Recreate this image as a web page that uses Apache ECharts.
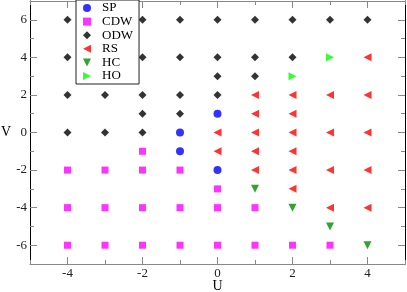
<!DOCTYPE html>
<html><head><meta charset="utf-8">
<script src="https://cdn.jsdelivr.net/npm/echarts@6/dist/echarts.min.js"></script>
<style>html,body{margin:0;padding:0;background:#fff}#c{width:407px;height:292px}</style>
</head><body><div id="c"></div>
<script>
const xTicks = [-4, -2, 0, 2, 4];
const yTicks = [-6, -4, -2, 0, 2, 4, 6];
const SP = [[-1,0],[-1,-1],[0,1],[0,-2]];
const CDW = [[-2,-1],[-4,-2],[-3,-2],[-2,-2],[-1,-2],[0,-3],
  [-4,-4],[-3,-4],[-2,-4],[-1,-4],[0,-4],[1,-4],
  [-4,-6],[-3,-6],[-2,-6],[-1,-6],[0,-6],[1,-6],[2,-6],[3,-6]];
const ODW = [[-4,6],[-2,6],[-1,6],[0,6],[1,6],[2,6],[3,6],[4,6],
  [-4,4],[-2,4],[-1,4],[0,4],[1,4],[2,4],
  [0,3],[1,3],
  [-4,2],[-3,2],[-2,2],[-1,2],[0,2],
  [-2,1],[-1,1],
  [-4,0],[-3,0],[-2,0]];
const RS = [[4,4],[1,2],[2,2],[3,2],[4,2],[1,1],[2,1],
  [0,0],[1,0],[2,0],[3,0],[4,0],
  [0,-1],[1,-1],[2,-1],
  [1,-2],[2,-2],[3,-2],[4,-2],
  [2,-3],[3,-4],[4,-4]];
const HC = [[1,-3],[2,-4],[3,-5],[4,-6]];
const HO = [[3,4],[2,3]];

const font = 'Liberation Serif';
const chart = echarts.init(document.getElementById('c'));
const tickColor = '#888';
function mkAxis(pos, min, max, major, labels, lineColor, extra) {
  const minor = {
    type: 'value', min, max, interval: 1, position: pos,
    axisLine: {show: true, onZero: false, lineStyle: {color: lineColor, width: 1}},
    axisTick: {show: true, inside: true, length: 4, lineStyle: {color: tickColor}},
    axisLabel: {show: false}, splitLine: {show: false}
  };
  const maj = Object.assign({
    type: 'value', min, max, position: pos,
    axisLine: {show: false, onZero: false},
    axisTick: {show: true, inside: true, length: 7, customValues: major, lineStyle: {color: tickColor}},
    axisLabel: labels ? Object.assign({show: true, customValues: major, fontFamily: font, fontSize: 13, color: '#222'}, labels) : {show: false},
    splitLine: {show: false}
  }, extra || {});
  return [minor, maj];
}
function ser(name, data, symbol, size, color, rot) {
  return {name, type: 'scatter', data, symbol, symbolSize: size, symbolRotate: rot || 0,
    itemStyle: {color}, xAxisIndex: 0, yAxisIndex: 0};
}
const xAxes = mkAxis('bottom', -5, 5, xTicks, {margin: 3}, '#888',
  {name: 'U', nameLocation: 'middle', nameGap: 15, nameMoveOverlap: false,
   nameTextStyle: {fontFamily: font, fontSize: 14, color: '#000'}})
  .concat(mkAxis('top', -5, 5, xTicks, null, '#888'));
const yAxes = mkAxis('left', -7, 7, yTicks, {margin: 3}, '#000',
  {name: 'V', nameLocation: 'middle', nameGap: 19, nameRotate: 0, nameMoveOverlap: false,
   nameTextStyle: {fontFamily: font, fontSize: 14, color: '#000'}})
  .concat(mkAxis('right', -7, 7, yTicks, null, '#000'));
chart.setOption({
  animation: false,
  grid: {left: 30, right: 2, top: 1, bottom: 28, containLabel: false, outerBoundsMode: 'none'},
  xAxis: xAxes,
  yAxis: yAxes,
  legend: {
    orient: 'vertical', left: 76, top: 0,
    backgroundColor: '#fff', borderColor: '#222', borderWidth: 1,
    padding: [1.5, 6, 1.5, 7], itemGap: 0.6, itemWidth: 20, itemHeight: 8,
    symbolKeepAspect: true,
    textStyle: {fontFamily: font, fontSize: 13, lineHeight: 13, color: '#000'},
    data: [
      {name: 'SP', icon: 'circle'},
      {name: 'CDW', icon: 'path://M0,0 L10,0 L10,10 L0,10 Z'},
      {name: 'ODW', icon: 'path://M5,0 L10,5 L5,10 L0,5 Z'},
      {name: 'RS', icon: 'path://M10,0 L10,10 L0,5 Z'},
      {name: 'HC', icon: 'path://M0,0 L10,0 L5,10 Z'},
      {name: 'HO', icon: 'path://M0,0 L10,5 L0,10 Z'}
    ]
  },
  series: [
    ser('SP', SP, 'circle', 8, '#0000ff'),
    ser('CDW', CDW, 'rect', 7, '#ff00ff'),
    ser('ODW', ODW, 'diamond', 8, '#000000'),
    ser('RS', RS, 'triangle', 8, '#ff0000', 90),
    ser('HC', HC, 'triangle', 8, '#008b00', 180),
    ser('HO', HO, 'triangle', 8, '#00ff00', -90)
  ]
});
</script></body></html>
